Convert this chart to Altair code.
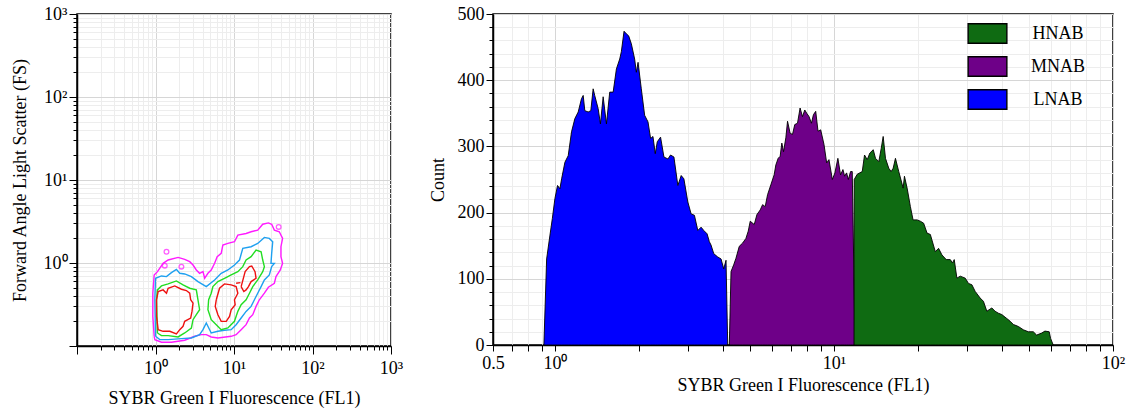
import altair as alt
import pandas as pd

FONT = "Liberation Serif"

# ---------------- Histogram (right panel) ----------------
blue_fl1 = [0.913, 0.934, 0.960, 0.979, 1.000, 1.022, 1.042, 1.057, 1.086, 1.116, 1.147, 1.179, 1.212, 1.245, 1.263,
            1.280, 1.316, 1.345, 1.371, 1.389, 1.429, 1.456, 1.489, 1.530, 1.572, 1.617, 1.661, 1.707, 1.730, 1.769,
            1.804, 1.838, 1.879, 1.931, 1.958, 1.986, 2.040, 2.097, 2.156, 2.203, 2.246, 2.289, 2.327, 2.391, 2.459,
            2.541, 2.596, 2.670, 2.758, 2.835, 2.899, 2.995, 3.078, 3.162, 3.252, 3.341, 3.416, 3.510, 3.577, 3.627,
            3.709, 3.833, 3.939, 4.027, 4.104, 4.162]
blue_count = [0, 130, 166, 191, 221, 241, 236, 251, 276, 286, 322, 342, 352, 372, 377,
              354, 352, 354, 387, 377, 357, 334, 375, 334, 382, 382, 417, 432, 443, 474,
              470, 467, 455, 432, 412, 427, 387, 347, 337, 312, 315, 289, 307, 314, 284,
              281, 287, 284, 241, 256, 251, 216, 198, 196, 173, 178, 173, 168, 156, 151,
              138, 133, 130, 115, 128, 0]

purple_fl1 = [4.217, 4.277, 4.371, 4.455, 4.577, 4.707, 4.836, 4.930, 5.012, 5.180, 5.296, 5.441, 5.550, 5.670,
              5.782, 5.941, 6.105, 6.191, 6.310, 6.414, 6.505, 6.597, 6.723, 6.818, 6.965, 7.103, 7.238, 7.402,
              7.562, 7.712, 7.860, 7.990, 8.142, 8.305, 8.443, 8.603, 8.768, 8.964, 9.211, 9.417, 9.597, 9.869,
              10.08, 10.33, 10.56, 10.77, 10.92, 11.10, 11.26, 11.47, 11.63, 11.90]
purple_count = [0, 111, 121, 131, 149, 154, 161, 172, 187, 182, 197, 204, 212, 209,
                227, 242, 257, 272, 282, 285, 305, 292, 313, 338, 320, 318, 333, 335,
                358, 345, 355, 350, 345, 335, 348, 353, 323, 325, 303, 275, 280, 250,
                260, 282, 257, 265, 255, 260, 250, 262, 262, 0]

green_fl1 = [11.80, 11.82, 12.12, 12.63, 12.87, 13.16, 13.45, 13.83, 14.09, 14.48, 14.77, 15.01, 15.30, 15.72,
             16.03, 16.30, 16.61, 17.07, 17.70, 17.89, 18.29, 18.79, 19.21, 19.86, 20.40, 20.96, 21.56, 22.15,
             23.08, 23.71, 24.38, 25.26, 26.11, 26.61, 26.98, 27.58, 28.35, 29.54, 30.35, 31.21, 32.07, 33.41,
             34.33, 35.31, 36.79, 37.80, 38.85, 39.95, 41.63, 42.77, 43.95, 45.79, 47.72, 49.72, 51.80, 53.26,
             55.50, 57.03, 59.08, 59.76, 61.06]
green_count = [0, 250, 258, 262, 287, 280, 290, 295, 282, 277, 297, 315, 282, 267,
               262, 267, 282, 262, 237, 255, 237, 209, 189, 189, 187, 184, 169, 167,
               141, 146, 136, 129, 129, 124, 129, 101, 104, 101, 93, 91, 81, 71,
               66, 51, 56, 51, 48, 46, 40, 36, 31, 28, 23, 20, 20, 15,
               18, 21, 20, 10, 0]

populations = ["HNAB", "MNAB", "LNAB"]
pop_colors = ["#0f6b12", "#6e0088", "#0000ff"]

# ---------------- Contours (left panel), log10 of FL1 and FS ----------------
mag_lx = [-0.017, -0.034, -0.034, -0.017, 0.025, 0.097, 0.161, 0.288, 0.372, 0.436, 0.478, 0.520, 0.562, 0.605,
          0.626, 0.668, 0.710, 0.753, 0.786, 0.837, 0.858, 0.922, 1.006, 1.049, 1.154, 1.218, 1.302, 1.366,
          1.438, 1.480, 1.514, 1.577, 1.619, 1.598, 1.598, 1.619, 1.590, 1.535, 1.514, 1.438, 1.387, 1.323,
          1.281, 1.239, 1.197, 1.154, 1.091, 1.027, 0.964, 0.795, 0.710, 0.647, 0.584, 0.499, 0.372, 0.203,
          0.076, -0.008]
mag_ly = [-0.883, -0.643, -0.364, -0.144, -0.104, -0.004, 0.036, 0.068, 0.044, 0.016, -0.024, -0.084, -0.124, -0.104,
          -0.184, -0.124, -0.084, -0.004, 0.076, 0.116, 0.216, 0.236, 0.256, 0.336, 0.356, 0.376, 0.396, 0.467,
          0.483, 0.467, 0.396, 0.376, 0.296, 0.196, 0.076, -0.004, -0.084, -0.164, -0.244, -0.292, -0.364, -0.443,
          -0.523, -0.623, -0.663, -0.743, -0.803, -0.863, -0.883, -0.903, -0.891, -0.863, -0.863, -0.883, -0.931, -0.955,
          -0.955, -0.925]

cyan_lx = [0.000, -0.008, 0.000, 0.076, 0.140, 0.203, 0.266, 0.309, 0.372, 0.457, 0.541, 0.647, 0.753, 0.837,
           0.922, 1.006, 1.070, 1.112, 1.218, 1.302, 1.387, 1.450, 1.493, 1.480, 1.471, 1.514, 1.480, 1.450,
           1.387, 1.345, 1.302, 1.260, 1.218, 1.154, 1.091, 1.027, 0.964, 0.879, 0.795, 0.710, 0.647, 0.605,
           0.562, 0.457, 0.330, 0.161, 0.055]
cyan_ly = [-0.883, -0.443, -0.184, -0.156, -0.164, -0.116, -0.076, -0.124, -0.132, -0.164, -0.224, -0.284, -0.204, -0.124,
           -0.084, -0.024, 0.036, 0.176, 0.196, 0.236, 0.308, 0.296, 0.256, 0.116, -0.004, -0.004, -0.044, -0.144,
           -0.204, -0.284, -0.364, -0.443, -0.523, -0.583, -0.663, -0.743, -0.803, -0.811, -0.823, -0.843, -0.723, -0.803,
           -0.863, -0.903, -0.911, -0.923, -0.923]

grn_left_lx = [0.025, 0.013, 0.025, 0.076, 0.161, 0.266, 0.351, 0.436, 0.520, 0.541, 0.562, 0.520, 0.478, 0.457,
               0.372, 0.288, 0.161, 0.076]
grn_left_ly = [-0.843, -0.443, -0.324, -0.276, -0.252, -0.216, -0.264, -0.304, -0.324, -0.443, -0.563, -0.623, -0.683,
               -0.783, -0.843, -0.891, -0.875, -0.875]

grn_right_lx = [0.710, 0.731, 0.795, 0.879, 0.964, 1.049, 1.112, 1.154, 1.218, 1.281, 1.345, 1.366, 1.387, 1.366,
                1.302, 1.239, 1.197, 1.154, 1.091, 1.049, 1.006, 0.922, 0.837, 0.774, 0.710, 0.668, 0.677]
grn_right_ly = [-0.364, -0.284, -0.224, -0.184, -0.144, -0.104, -0.044, 0.036, 0.076, 0.156, 0.136, 0.036, -0.044,
                -0.104, -0.204, -0.284, -0.364, -0.443, -0.503, -0.583, -0.703, -0.783, -0.803, -0.743, -0.683, -0.563,
                -0.443]

red_left_lx = [0.013, 0.034, 0.097, 0.140, 0.161, 0.245, 0.330, 0.393, 0.436, 0.448, 0.478, 0.465, 0.448, 0.372,
               0.351, 0.309, 0.266, 0.182, 0.097, 0.034, 0.013]
red_left_ly = [-0.443, -0.344, -0.324, -0.364, -0.304, -0.276, -0.316, -0.332, -0.364, -0.443, -0.483, -0.583, -0.663,
               -0.703, -0.763, -0.803, -0.855, -0.823, -0.823, -0.803, -0.643]

red_right_lx = [0.774, 0.816, 0.879, 0.964, 1.027, 1.049, 1.006, 1.015, 0.964, 0.943, 0.901, 0.837, 0.795, 0.761]
red_right_ly = [-0.443, -0.304, -0.252, -0.264, -0.284, -0.364, -0.443, -0.503, -0.563, -0.643, -0.703, -0.703,
                -0.623, -0.523]

red_upper_lx = [1.091, 1.125, 1.142, 1.197, 1.226, 1.268, 1.281, 1.218, 1.184, 1.154, 1.125]
red_upper_ly = [-0.284, -0.164, -0.104, -0.044, -0.036, -0.104, -0.184, -0.224, -0.284, -0.324, -0.344]

red_link_lx = [1.027, 1.082]
red_link_ly = [-0.244, -0.236]

island_lx = [0.140, 1.569, 0.118, 0.330]
island_ly = [0.136, 0.435, -0.032, -0.044]

levels = ["outer", "mid", "inner", "core"]
level_colors = ["#ff1aff", "#1ea0f0", "#22dd22", "#ee1111"]

LEFT_TICKS = [0.1, 0.2, 0.3, 0.4, 0.5, 0.6, 0.7, 0.8, 0.9, 1, 2, 3, 4, 5, 6, 7, 8, 9,
              10, 20, 30, 40, 50, 60, 70, 80, 90, 100, 200, 300, 400, 500, 600, 700, 800, 900, 1000]
RIGHT_X_TICKS = [0.6, 0.7, 0.8, 0.9, 1, 2, 3, 4, 5, 6, 7, 8, 9, 10, 20, 30, 40, 50, 60, 70, 80, 90, 100]
RIGHT_Y_TICKS = list(range(0, 501, 20))

# ---------------- Build tables ----------------
hist_rows = []
for name, xs, ys in [("LNAB", blue_fl1, blue_count), ("MNAB", purple_fl1, purple_count),
                     ("HNAB", green_fl1, green_count)]:
    for x, y in zip(xs, ys):
        hist_rows.append({"pop": name, "FL1": x, "count": y})
hist = pd.DataFrame(hist_rows)

paths = [
    ("mag", "outer", mag_lx, mag_ly, True),
    ("cyan", "mid", cyan_lx, cyan_ly, True),
    ("gl", "inner", grn_left_lx, grn_left_ly, True),
    ("gr", "inner", grn_right_lx, grn_right_ly, True),
    ("rl", "core", red_left_lx, red_left_ly, True),
    ("rr", "core", red_right_lx, red_right_ly, True),
    ("ru", "core", red_upper_lx, red_upper_ly, True),
    ("rk", "core", red_link_lx, red_link_ly, False),
]
cont_rows = []
for pid, lev, lx, ly, closed in paths:
    pts = list(zip(lx, ly))
    if closed:
        pts.append(pts[0])
    for i, (a, b) in enumerate(pts):
        cont_rows.append({"path": pid, "level": lev, "idx": i, "FL1": 10 ** a, "FS": 10 ** b})
cont = pd.DataFrame(cont_rows)
islands = pd.DataFrame({"FL1": [10 ** v for v in island_lx], "FS": [10 ** v for v in island_ly],
                        "level": ["outer"] * len(island_lx)})

DEC = "abs(log(datum.value)/LN10 - round(log(datum.value)/LN10)) < 0.0001"
grid_log = {"condition": {"test": DEC, "value": "#d6d6d6"}, "value": "#ededed"}
tick_log = {"condition": {"test": DEC, "value": 8}, "value": 4}
sup_left = ("datum.value == 1 ? '10⁰' : datum.value == 10 ? '10¹' : "
            "datum.value == 100 ? '10²' : datum.value == 1000 ? '10³' : ''")

xl = alt.X("FL1:Q", scale=alt.Scale(type="log", domain=[0.1, 1000], nice=False),
           axis=alt.Axis(values=LEFT_TICKS, labelExpr=sup_left, labelOverlap=False, labelFlush=False,
                         title="SYBR Green I Fluorescence (FL1)", tickSize=tick_log, gridColor=grid_log,
                         labelPadding=5, titlePadding=12))
yl = alt.Y("FS:Q", scale=alt.Scale(type="log", domain=[0.1, 1000], nice=False),
           axis=alt.Axis(values=LEFT_TICKS, labelExpr=sup_left, labelOverlap=False, labelFlush=False,
                         title="Forward Angle Light Scatter (FS)", tickSize=tick_log, gridColor=grid_log,
                         labelPadding=2, titlePadding=14))
cscale = alt.Scale(domain=levels, range=level_colors)

lines = alt.Chart(cont).mark_line(strokeWidth=1.4, clip=True).encode(
    x=xl, y=yl, detail="path:N", order="idx:Q",
    color=alt.Color("level:N", scale=cscale, legend=None))
dots = alt.Chart(islands).mark_point(shape="circle", filled=False, size=22, strokeWidth=1.3).encode(
    x=alt.X("FL1:Q"), y=alt.Y("FS:Q"), color=alt.Color("level:N", scale=cscale, legend=None))
left = alt.layer(lines, dots).properties(width=314, height=332)

sup_right = ("datum.value == 0.6 ? '0.5' : datum.value == 1 ? '10⁰' : "
             "datum.value == 10 ? '10¹' : datum.value == 100 ? '10²' : ''")
area = alt.Chart(hist).mark_area(stroke="black", strokeWidth=0.9, opacity=1, interpolate="linear").encode(
    x=alt.X("FL1:Q", scale=alt.Scale(type="log", domain=[0.6, 100], nice=False),
            axis=alt.Axis(values=RIGHT_X_TICKS, labelExpr=sup_right, labelOverlap=False, labelFlush=False,
                          title="SYBR Green I Fluorescence (FL1)", tickSize=6, gridColor=grid_log,
                          labelPadding=3, titlePadding=4)),
    y=alt.Y("count:Q", stack=None, scale=alt.Scale(domain=[0, 500], nice=False),
            axis=alt.Axis(values=RIGHT_Y_TICKS, labelExpr="datum.value % 100 == 0 ? format(datum.value, 'd') : ''",
                          labelOverlap=False, labelFlush=False, title="Count",
                          tickSize={"condition": {"test": "datum.value % 100 == 0", "value": 7}, "value": 4},
                          gridColor={"condition": {"test": "datum.value % 100 == 0", "value": "#d6d6d6"},
                                     "value": "#ededed"},
                          labelPadding=2, titlePadding=10)),
    color=alt.Color("pop:N", scale=alt.Scale(domain=populations, range=pop_colors),
                    legend=alt.Legend(title=None, orient="none", legendX=474, legendY=-1, padding=0,
                                      symbolType="M-1,-0.5H1V0.5H-1Z", symbolSize=1500,
                                      symbolStrokeColor="black", symbolStrokeWidth=1.4, symbolOpacity=1,
                                      labelFont=FONT, labelFontSize=18, labelColor="black",
                                      labelAlign="center", labelOffset=50, rowPadding=-1.5)),
)
right = area.properties(width=620, height=331)

chart = alt.hconcat(left, right, spacing=24).resolve_scale(color="independent").properties(
    padding={"left": 10, "top": 4, "right": 4, "bottom": 2}
).configure_view(stroke="black", strokeWidth=1.5).configure_axis(
    domainColor="black", domainWidth=1.5, tickColor="black", tickWidth=1,
    labelFont=FONT, titleFont=FONT, labelFontSize=18, titleFontSize=18,
    labelColor="black", titleColor="black", titleFontWeight="normal", grid=True, gridWidth=1
)

chart.save("out.html", embed_options={"renderer": "svg", "actions": False})
